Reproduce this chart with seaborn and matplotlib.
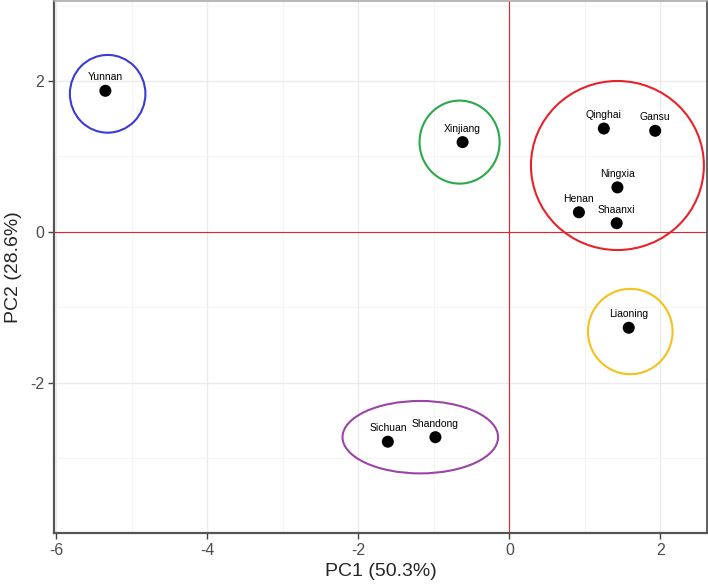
import pandas as pd
import matplotlib.pyplot as plt
import seaborn as sns
from matplotlib.patches import Ellipse
from matplotlib.ticker import MultipleLocator

# PCA scores
provinces = ['Yunnan', 'Xinjiang', 'Qinghai', 'Gansu', 'Ningxia', 'Henan',
             'Shaanxi', 'Liaoning', 'Sichuan', 'Shandong']
pc1 = [-5.35, -0.62, 1.25, 1.93, 1.43, 0.92, 1.42, 1.58, -1.61, -0.98]
pc2 = [1.87, 1.19, 1.37, 1.34, 0.59, 0.26, 0.115, -1.27, -2.78, -2.72]

# cluster ellipses: center x, center y, width, height, colour
ell_x = [-5.32, -0.66, 1.43, 1.60, -1.18]
ell_y = [1.83, 1.19, 0.88, -1.32, -2.72]
ell_w = [1.00, 1.06, 2.29, 1.12, 2.06]
ell_h = [1.03, 1.10, 2.24, 1.13, 0.96]
ell_col = ['#3b3bd6', '#2aa84a', '#e8222a', '#f5c21b', '#9b44a8']

df = pd.DataFrame({'province': provinces, 'PC1': pc1, 'PC2': pc2})

sns.set_style("white")
plt.rcParams['font.family'] = ['Liberation Sans', 'DejaVu Sans']
plt.rcParams['axes.unicode_minus'] = False

fig = plt.figure(figsize=(7.08, 5.84), dpi=100)
ax = fig.add_axes([0.0763, 0.0873, 0.9227, 0.911])

ax.set_xlim(-6.03, 2.62)
ax.set_ylim(-3.99, 3.06)
ax.xaxis.set_major_locator(MultipleLocator(2))
ax.yaxis.set_major_locator(MultipleLocator(2))
ax.xaxis.set_minor_locator(MultipleLocator(1))
ax.yaxis.set_minor_locator(MultipleLocator(1))
ax.grid(which='major', color='#ebebeb', lw=1.0)
ax.grid(which='minor', color='#f4f4f4', lw=0.8)
ax.set_axisbelow(True)

ax.plot([-6.03, 2.62], [0, 0], color='#e8222a', lw=0.8, zorder=1.5)
ax.plot([0, 0], [-3.99, 3.06], color='#e8222a', lw=0.8, zorder=1.5)

for x, y, w, h, c in zip(ell_x, ell_y, ell_w, ell_h, ell_col):
    ax.add_patch(Ellipse((x, y), w, h, fill=False, edgecolor=c, lw=1.5, zorder=2))

sns.scatterplot(data=df, x='PC1', y='PC2', color='black', s=75,
                edgecolor='none', ax=ax, zorder=3)

for _, r in df.iterrows():
    ax.text(r['PC1'], r['PC2'] + 0.11, r['province'], ha='center', va='bottom',
            fontsize=7.5, color='black', zorder=4)

ax.set_xlim(-6.03, 2.62)
ax.set_ylim(-3.99, 3.06)

for side in ['left', 'bottom']:
    ax.spines[side].set_color('#555555')
    ax.spines[side].set_linewidth(1.6)
ax.spines['top'].set_color('#aaaaaa')
ax.spines['top'].set_linewidth(1.2)
ax.spines['right'].set_color('#444444')
ax.spines['right'].set_linewidth(1.2)

ax.tick_params(which='major', axis='both', direction='out', length=4, width=1,
               color='#444444', labelsize=11.5, labelcolor='#4d4d4d', pad=3,
               bottom=True, left=True)
ax.tick_params(which='minor', length=0)

ax.set_xlabel('PC1 (50.3%)', fontsize=14, labelpad=4)
ax.set_ylabel('PC2 (28.6%)', fontsize=14, labelpad=6)

fig.savefig('out.png', dpi=100)
